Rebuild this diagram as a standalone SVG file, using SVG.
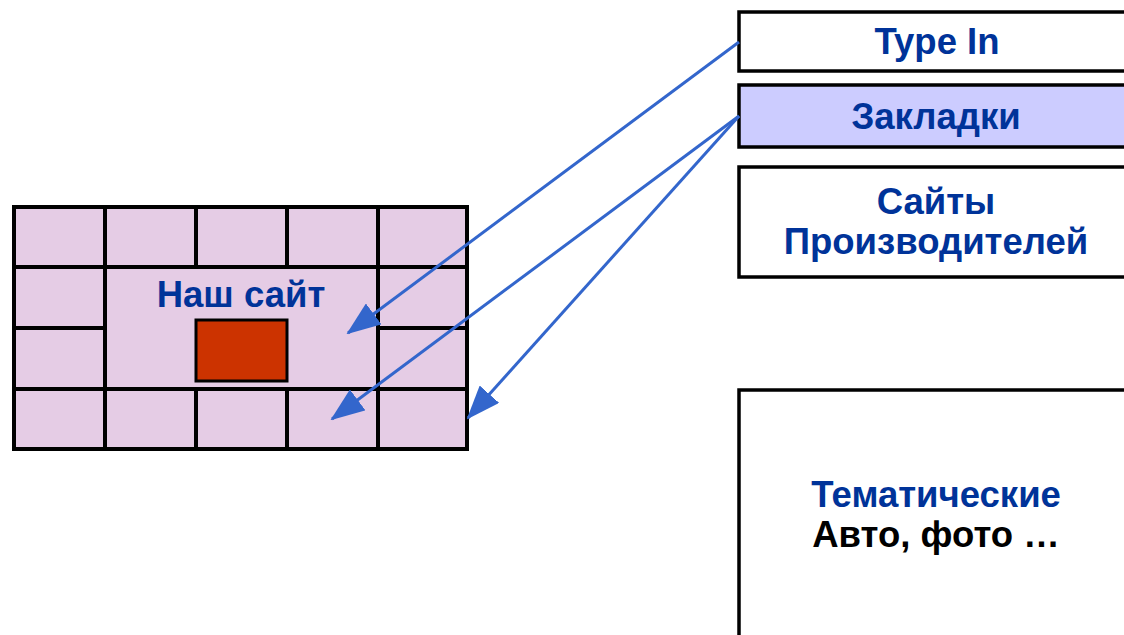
<svg xmlns="http://www.w3.org/2000/svg" width="1124" height="635" viewBox="0 0 1124 635">
<defs>
<style>
.cell{fill:#E5CCE5;stroke:#000;stroke-width:4}
.ln{stroke:#000;stroke-width:4;fill:none}
.box{stroke:#000;stroke-width:3.5}
.t{font-family:"Liberation Sans",Arial,sans-serif;font-weight:bold;font-size:36.5px;text-anchor:middle;fill:#003399}
.k{fill:#000}
.con{stroke:#3366CC;stroke-width:3;fill:none}
</style>
<marker id="ah" markerUnits="userSpaceOnUse" markerWidth="34" markerHeight="26" viewBox="0 0 34 26" refX="32" refY="13" orient="auto">
<path d="M0,0 L34,13 L0,26 Z" fill="#3366CC"/>
</marker>
</defs>
<rect width="1124" height="635" fill="#fff"/>
<g id="our-site">
<rect class="cell" x="14" y="207" width="453" height="242"/>
<line class="ln" x1="14" y1="267" x2="467" y2="267"/>
<line class="ln" x1="14" y1="389" x2="467" y2="389"/>
<line class="ln" x1="14" y1="328" x2="105" y2="328"/>
<line class="ln" x1="378" y1="328" x2="467" y2="328"/>
<line class="ln" x1="105" y1="207" x2="105" y2="449"/>
<line class="ln" x1="378" y1="207" x2="378" y2="449"/>
<line class="ln" x1="196" y1="207" x2="196" y2="267"/>
<line class="ln" x1="287" y1="207" x2="287" y2="267"/>
<line class="ln" x1="196" y1="389" x2="196" y2="449"/>
<line class="ln" x1="287" y1="389" x2="287" y2="449"/>
<rect x="196" y="320" width="91" height="61" fill="#CC3300" stroke="#000" stroke-width="3"/>
<text class="t" x="241" y="307">Наш сайт</text>
</g>
<g id="type-in">
<rect class="box" x="739" y="12" width="400" height="59" fill="#fff"/>
<text class="t" x="937" y="54">Type In</text>
</g>
<g id="bookmarks">
<rect class="box" x="739" y="85" width="400" height="62" fill="#CCCCFF"/>
<text class="t" x="936" y="129">Закладки</text>
</g>
<g id="vendor-sites">
<rect class="box" x="739" y="167" width="400" height="110" fill="#fff"/>
<text class="t" x="936" y="214">Сайты</text>
<text class="t" x="936" y="254">Производителей</text>
</g>
<g id="thematic">
<rect class="box" x="739" y="390" width="400" height="260" fill="#fff"/>
<text class="t" x="936" y="507">Тематические</text>
<text class="t k" x="936" y="547">Авто, фото …</text>
</g>
<g id="connectors">
<line class="con" x1="739" y1="42" x2="348" y2="333" marker-end="url(#ah)"/>
<line class="con" x1="739" y1="116" x2="332" y2="419" marker-end="url(#ah)"/>
<line class="con" x1="739" y1="116" x2="468" y2="418" marker-end="url(#ah)"/>
</g>
</svg>
